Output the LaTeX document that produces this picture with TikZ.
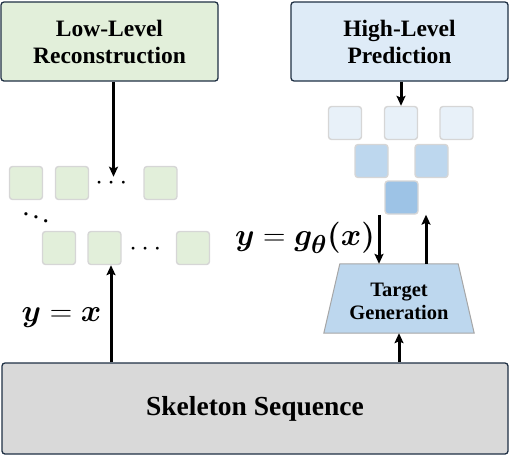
\documentclass[tikz,border=0pt]{standalone}
\usepackage{amsmath,bm,graphicx}
\usepackage{fontspec}
\setmainfont{Liberation Serif}[BoldFont={Liberation Serif Bold}]
\newfontfamily\tnr{Liberation Serif}[BoldFont={Liberation Serif Bold}]
\usetikzlibrary{arrows.meta,backgrounds}
\definecolor{lgreen}{HTML}{E2EFDA}
\definecolor{lblue}{HTML}{DEEBF7}
\definecolor{mblue}{HTML}{BDD7EE}
\definecolor{dblue}{HTML}{9DC3E6}
\definecolor{navy}{HTML}{1F3044}
\definecolor{sqborder}{HTML}{D6D6D6}
\definecolor{skel}{HTML}{D9D9D9}
\definecolor{trapborder}{HTML}{A6A6A6}
\tikzset{
  bigbox/.style={draw=navy, line width=1.3pt, rounded corners=3pt, align=center,
    font=\tnr\fontsize{23.5}{27}\selectfont\bfseries, inner sep=0pt},
  sq/.style={draw=sqborder, line width=1.4pt, rounded corners=3pt, minimum size=33pt, inner sep=0pt},
  gsq/.style={sq, fill=lgreen},
  arr/.style={line width=3pt, -{Stealth[length=10pt,width=9pt,inset=2pt]}},
  lbl/.style={font=\fontsize{24.88}{28}\selectfont, inner sep=0pt},
  dotsnode/.style={font=\fontsize{24.88}{28}\selectfont, inner sep=0pt}
}
\begin{document}
\begin{tikzpicture}[x=1pt,y=-1pt]
\useasboundingbox (0,0) rectangle (510,456);
% top boxes
\node[bigbox, fill=lgreen, minimum width=217pt, minimum height=79pt] (low) at (109.5,41.5) {Low-Level\\Reconstruction};
\node[bigbox, fill=lblue, minimum width=217pt, minimum height=79pt] (high) at (399.5,41.5) {High-Level\\Prediction};
% skeleton
\node[bigbox, fill=skel, minimum width=506pt, minimum height=91pt, font=\tnr\fontsize{27.5}{30}\selectfont\bfseries] (skel) at (255,408.5) {Skeleton Sequence};
% green squares row 1
\node[gsq] (g1a) at (26,183) {};
\node[gsq] (g1b) at (72,183) {};
\node[dotsnode] (d1) at (113.5,183) {\scalebox{1.1}{$\cdots$}};
\node[gsq] (g1c) at (160.5,183) {};
\node[dotsnode] (dd) at (36,214) {\scalebox{1.1}{$\ddots$}};
% green squares row 2
\node[gsq] (g2a) at (59,248) {};
\node[gsq] (g2b) at (104.5,248) {};
\node[dotsnode] (d2) at (147.5,249) {\scalebox{1.1}{$\cdots$}};
\node[gsq] (g2c) at (193,248) {};
% blue squares
\node[sq, fill=lblue!70] (b1a) at (345,123) {};
\node[sq, fill=lblue!70] (b1b) at (401,123) {};
\node[sq, fill=lblue!70] (b1c) at (456.5,123) {};
\node[sq, fill=mblue] (b2a) at (371.5,161) {};
\node[sq, fill=mblue] (b2b) at (431.5,161) {};
\node[sq, fill=dblue] (b3) at (401.5,197.5) {};
% target generation (frame node; text placed inside)
\node[minimum width=150pt, minimum height=69pt, inner sep=0pt] (tg) at (399,298.5) {};
\node[align=center, inner sep=0pt, font=\tnr\fontsize{20.5}{23.5}\selectfont\bfseries] (tgtext) at ([yshift=-3pt]tg.center) {Target\\Generation};
\begin{scope}[on background layer]
\draw[fill=mblue, draw=trapborder, line width=1pt] (tg.south west) -- ([xshift=16pt]tg.north west) -- ([xshift=-16pt]tg.north east) -- (tg.south east) -- cycle;
\end{scope}
% labels
\node[lbl] (l1) at (61.5,318) {\scalebox{1.25}{$\bm{y} = \bm{x}$}};
\node[lbl] (l2) at (305,238) {\scalebox{1.25}{$\bm{y} = \bm{g_{\theta}(x)}$}};
% arrows
\draw[arr] (low.south -| d1.north) -- (d1.north);
\draw[arr] ([xshift=6.5pt]g2b.south |- skel.north) -- ([xshift=6.5pt]g2b.south);
\draw[arr] (high.south -| b1b.north) -- (b1b.north);
\draw[arr] ([xshift=-22.5pt]b3.south) -- ([xshift=-22.5pt]b3.south |- tg.north);
\draw[arr] ([xshift=24.5pt]b3.south |- tg.north) -- ([xshift=24.5pt]b3.south);
\draw[arr] (skel.north -| tg.south) -- (tg.south);
\end{tikzpicture}
\end{document}
